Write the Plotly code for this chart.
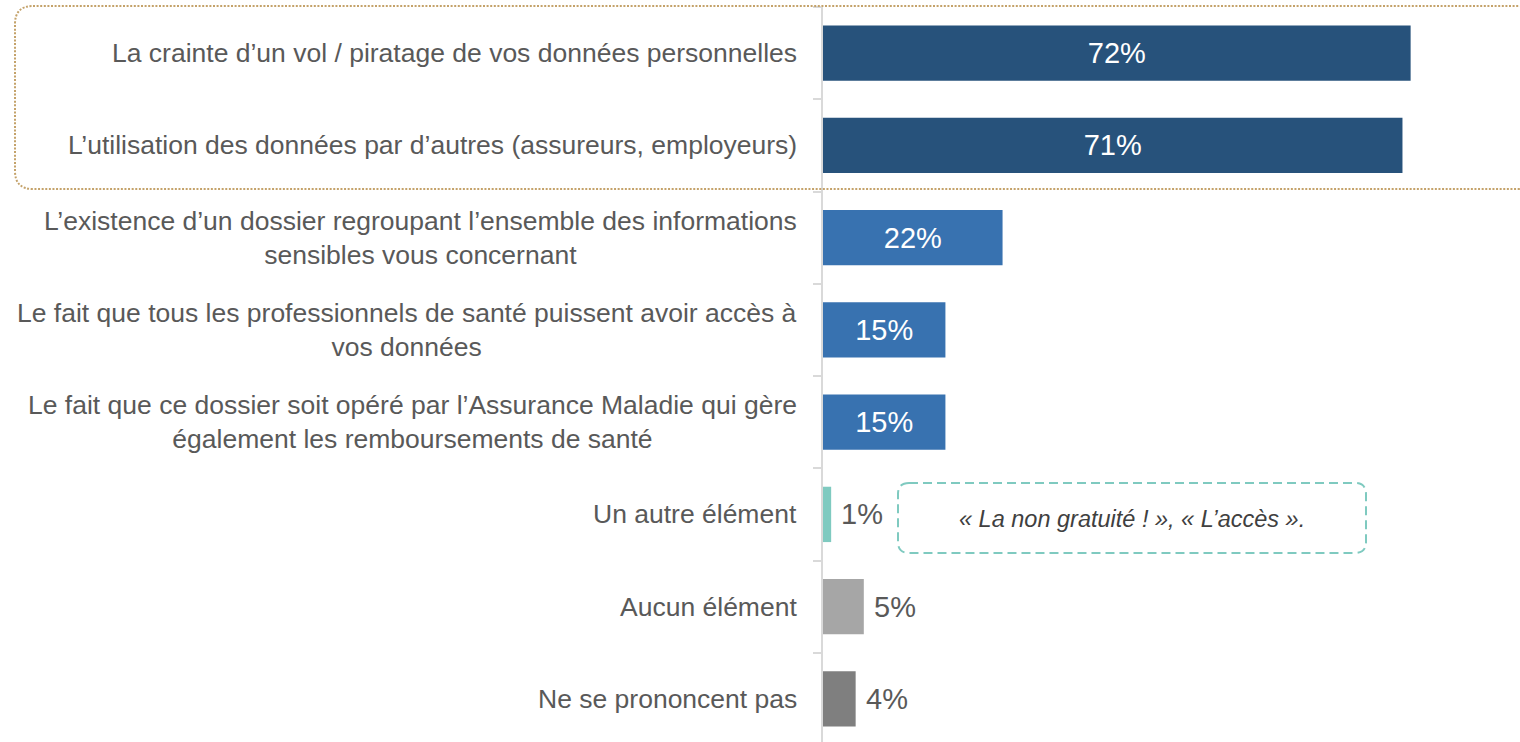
import plotly.graph_objects as go

categories = [
    "La crainte d’un vol / piratage de vos données personnelles",
    "L’utilisation des données par d’autres (assureurs, employeurs)",
    "L’existence d’un dossier regroupant l’ensemble des informations<br>sensibles vous concernant",
    "Le fait que tous les professionnels de santé puissent avoir accès à<br>vos données",
    "Le fait que ce dossier soit opéré par l’Assurance Maladie qui gère<br>également les remboursements de santé",
    "Un autre élément",
    "Aucun élément",
    "Ne se prononcent pas",
]
values = [72, 71, 22, 15, 15, 1, 5, 4]
value_labels = ["72%", "71%", "22%", "15%", "15%", "1%", "5%", "4%"]
bar_colors = ["#27527b", "#27527b", "#3872b0", "#3872b0", "#3872b0",
              "#7fcac0", "#a6a6a6", "#7f7f7f"]
label_inside = [True, True, True, True, True, False, False, False]
note_text = "« La non gratuité ! », « L’accès »."

FONT = "Liberation Sans, Arial, sans-serif"
W_FIG, H_FIG = 1520, 742
L, T = 823, 7
PW, PH = W_FIG - L, 735


def px2x(px):
    return (px - L) / PW


def py2y(py):
    return 1 - (py - T) / PH


def rounded_path(x0, y0, x1, y1, r):
    a, b = px2x(x0), px2x(x1)
    top, bot = py2y(y0), py2y(y1)
    rx, ry = r / PW, r / PH
    return (f"M {a+rx},{top} L {b-rx},{top} Q {b},{top} {b},{top-ry} "
            f"L {b},{bot+ry} Q {b},{bot} {b-rx},{bot} "
            f"L {a+rx},{bot} Q {a},{bot} {a},{bot+ry} "
            f"L {a},{top-ry} Q {a},{top} {a+rx},{top} Z")


fig = go.Figure()
fig.add_trace(go.Bar(
    x=values,
    y=categories,
    orientation="h",
    marker=dict(color=bar_colors, line=dict(width=0)),
    text=[t if ins else "" for t, ins in zip(value_labels, label_inside)],
    textposition="inside",
    insidetextanchor="middle",
    textangle=0,
    insidetextfont=dict(family=FONT, size=29, color="#ffffff"),
    cliponaxis=False,
    hoverinfo="skip",
))

annotations = []
for c in categories:
    annotations.append(dict(
        x=0, xref="paper", y=c, yref="y",
        text=c, showarrow=False,
        xanchor="right", yanchor="middle", align="center",
        xshift=-24,
        font=dict(family=FONT, size=26.5, color="#595959"),
    ))
for c, v, t, ins in zip(categories, values, value_labels, label_inside):
    if not ins:
        annotations.append(dict(
            x=v, xref="x", y=c, yref="y", text=t, showarrow=False,
            xanchor="left", yanchor="middle", xshift=8,
            font=dict(family=FONT, size=29, color="#595959"),
        ))
annotations.append(dict(
    x=px2x(1132), xref="paper", y=py2y(519), yref="paper",
    text=f"<i>{note_text}</i>", showarrow=False,
    xanchor="center", yanchor="middle",
    font=dict(family=FONT, size=23.5, color="#404040"),
))

shapes = [
    dict(type="path", xref="paper", yref="paper",
         path=rounded_path(15, 6, 1536, 189, 18),
         line=dict(color="#c4a26a", width=2, dash="2px,1.6px"),
         fillcolor="rgba(0,0,0,0)", layer="above"),
    dict(type="path", xref="paper", yref="paper",
         path=rounded_path(898, 483, 1366, 553, 11),
         line=dict(color="#7fcac0", width=2, dash="9px,5px"),
         fillcolor="rgba(0,0,0,0)", layer="above"),
]

fig.update_layout(
    width=W_FIG, height=H_FIG,
    margin=dict(l=L, r=0, t=T, b=0, pad=0),
    paper_bgcolor="white", plot_bgcolor="white",
    bargap=0.4,
    showlegend=False,
    annotations=annotations,
    shapes=shapes,
    xaxis=dict(range=[0, 85.4], showgrid=False, zeroline=False,
               showticklabels=False, showline=False, fixedrange=True),
    yaxis=dict(type="category", range=[7.467, -0.5], showgrid=False,
               zeroline=False, showticklabels=False,
               showline=True, linecolor="#d9d9d9", linewidth=2,
               ticks="outside", tickson="boundaries", ticklen=8,
               tickcolor="#d9d9d9", tickwidth=2, fixedrange=True),
)

fig.write_html(
    "out.html",
    config={"displayModeBar": False},
    post_script="document.body.style.margin='0';document.body.style.overflow='hidden';",
)
